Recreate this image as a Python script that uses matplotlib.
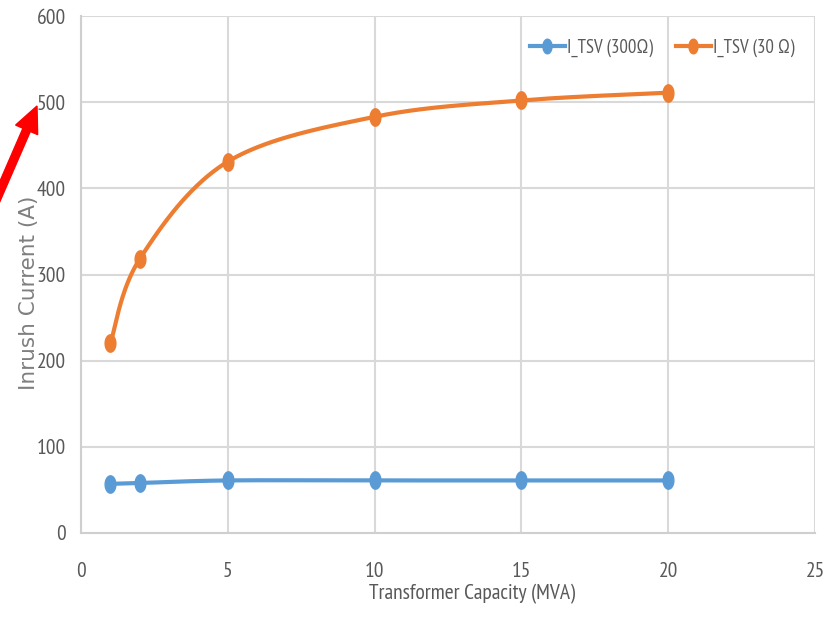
import numpy as np
import matplotlib
matplotlib.use("Agg")
import matplotlib.pyplot as plt
from matplotlib.path import Path
from matplotlib.patches import FancyArrow
from matplotlib.transforms import IdentityTransform

# ---------------- data ----------------
capacity = [1, 2, 5, 10, 15, 20]
i_tsv_300 = [57, 58, 61, 61, 61, 61]
i_tsv_30 = [220, 318, 431, 483, 502, 511]
series_names = ["I_TSV (300\u03a9)", "I_TSV (30 \u03a9)"]
x_ticks = [0, 5, 10, 15, 20, 25]
y_ticks = [0, 100, 200, 300, 400, 500, 600]

NARROW = ["PT Sans Narrow", "DejaVu Sans"]
GRAY = "#595959"
W, H = 837, 617

def smooth(xs, ys, n=40):
    """Excel-style smoothed line (Catmull-Rom Bezier) through points."""
    pts = np.column_stack([xs, ys]).astype(float)
    out = []
    m = len(pts)
    for i in range(m - 1):
        p0 = pts[i - 1] if i > 0 else pts[i]
        p1 = pts[i]
        p2 = pts[i + 1]
        p3 = pts[i + 2] if i + 2 < m else pts[i + 1]
        c1 = p1 + (p2 - p0) / 6.0
        c2 = p2 - (p3 - p1) / 6.0
        t = np.linspace(0, 1, n)[:, None]
        seg = ((1 - t) ** 3) * p1 + 3 * ((1 - t) ** 2) * t * c1 + 3 * (1 - t) * t ** 2 * c2 + t ** 3 * p2
        out.append(seg if i == 0 else seg[1:])
    s = np.vstack(out)
    return s[:, 0], s[:, 1]

# elliptical marker (taller than wide)
th = np.linspace(0, 2 * np.pi, 41)
ell = Path(np.column_stack([0.62 * np.cos(th), np.sin(th)]), closed=True)

fig = plt.figure(figsize=(W / 100, H / 100), dpi=100)
ax = fig.add_axes([81 / W, (H - 533) / H, 734 / W, 517 / H])

colors = ["#5B9BD5", "#ED7D31"]
handles = []
for ys, c, name in zip([i_tsv_300, i_tsv_30], colors, series_names):
    sx, sy = smooth(capacity, ys)
    ax.plot(sx, sy, color=c, lw=3.0, solid_capstyle="round", zorder=3)
    ax.plot(capacity, ys, linestyle="none", marker=ell, markersize=12.5,
            color=c, zorder=4)
    h, = ax.plot([], [], color=c, lw=3.0, marker=ell, markersize=10.5, label=name)
    handles.append(h)

ax.set_xlim(0, 25)
ax.set_ylim(0, 600)
ax.set_xticks(x_ticks)
ax.set_yticks(y_ticks)
ax.grid(True, color="#D9D9D9", lw=1.5, zorder=0)
ax.set_axisbelow(True)
for s in ["top", "right"]:
    ax.spines[s].set_visible(False)
for s in ["left", "bottom"]:
    ax.spines[s].set_color("#CFCFCF")
    ax.spines[s].set_linewidth(1.5)
ax.tick_params(length=0, colors=GRAY)
ax.tick_params(axis="y", pad=11)
ax.tick_params(axis="x", pad=21)
for lab in ax.get_xticklabels() + ax.get_yticklabels():
    lab.set_fontfamily(NARROW)
    lab.set_fontsize(15.5)
    lab.set_color(GRAY)

fig.text(472 / W, 1 - 594 / H, "Transformer Capacity (MVA)", family=NARROW,
         fontsize=15.5, color=GRAY, ha="center", va="center")
fig.text(29 / W, 1 - 293 / H, "Inrush Current (A)", family="DejaVu Sans",
         fontsize=15.5, color="#7F7F7F", rotation=90, ha="center", va="center")

leg = ax.legend(handles=handles, loc="center right", ncol=2, frameon=False,
                handlelength=1.85, columnspacing=1.2, handletextpad=0.15,
                borderpad=0, borderaxespad=0,
                bbox_to_anchor=(795 / W, 1 - 48 / H),
                bbox_transform=fig.transFigure,
                prop={"family": NARROW, "size": 13.5})
for t in leg.get_texts():
    t.set_color(GRAY)

# red arrow (figure pixels, origin bottom-left)
tail = (-6, H - 205)
tip = (37, H - 106)
dx, dy = tip[0] - tail[0], tip[1] - tail[1]
arr = FancyArrow(tail[0], tail[1], dx, dy, width=8, head_width=24,
                 head_length=26, length_includes_head=True,
                 color="#FF0000", transform=IdentityTransform(), clip_on=False)
fig.add_artist(arr)

fig.savefig("out.png", dpi=100)
